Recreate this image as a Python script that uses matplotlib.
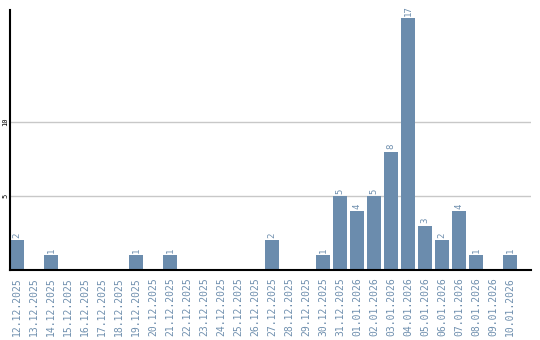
import matplotlib
matplotlib.use("Agg")
import matplotlib.pyplot as plt
import numpy as np

dates = ["12.12.2025", "13.12.2025", "14.12.2025", "15.12.2025", "16.12.2025",
         "17.12.2025", "18.12.2025", "19.12.2025", "20.12.2025", "21.12.2025",
         "22.12.2025", "23.12.2025", "24.12.2025", "25.12.2025", "26.12.2025",
         "27.12.2025", "28.12.2025", "29.12.2025", "30.12.2025", "31.12.2025",
         "01.01.2026", "02.01.2026", "03.01.2026", "04.01.2026", "05.01.2026",
         "06.01.2026", "07.01.2026", "08.01.2026", "09.01.2026", "10.01.2026"]
counts = [2, 0, 1, 0, 0, 0, 0, 1, 0, 1,
          0, 0, 0, 0, 0, 2, 0, 0, 1, 5,
          4, 5, 8, 17, 3, 2, 4, 1, 0, 1]

bar_col = "#6b8cad"
txt_col = "#6f8fae"

fig = plt.figure(figsize=(5.4, 3.4), dpi=100)
ax = fig.add_axes([10 / 540, 70 / 340, 521 / 540, 260 / 340])

x = np.arange(len(dates))
w = 14 / 17
ax.bar(x, counts, width=w, color=bar_col, zorder=2)

for xi, c in zip(x, counts):
    if c > 0:
        ax.text(xi, c + 0.15, str(c), rotation=90, ha="center", va="bottom",
                color=txt_col, fontsize=6.5, family="DejaVu Sans Mono")

ax.set_xlim(-w / 2, -w / 2 + 521 / 17)
ax.set_ylim(0, 260 / 14.8)

ax.set_yticks([5, 10])
ax.set_yticklabels(["5", "10"], rotation=90, va="center", fontsize=5,
                   family="DejaVu Sans Mono")
ax.yaxis.grid(True, color="#c8c8c8", linewidth=1, zorder=0)
ax.set_xticks(x)
ax.set_xticklabels(dates, rotation=90, color=txt_col, fontsize=7,
                   family="DejaVu Sans Mono")
ax.tick_params(axis="x", length=0, pad=5)
ax.tick_params(axis="y", length=0, pad=1)

for s in ["top", "right"]:
    ax.spines[s].set_visible(False)
ax.spines["left"].set_linewidth(1.5)
ax.spines["bottom"].set_linewidth(1.5)

fig.savefig("out.png", dpi=100)
